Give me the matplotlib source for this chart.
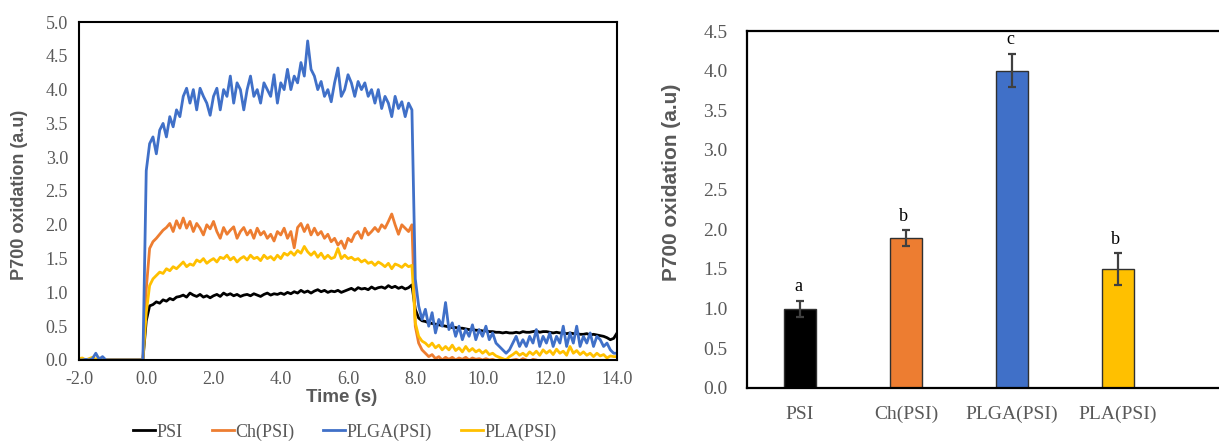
import numpy as np
import matplotlib
matplotlib.use("Agg")
import matplotlib.pyplot as plt
import matplotlib.ticker as ticker

# ---- time traces (0.1 s steps, -2.0 .. 14.0 s) ----
time = np.linspace(-2.0, 14.0, 161)

psi = [
    0, 0, 0, 0, 0, 0, 0, 0, 0, 0,                                            # -2..-1
    0, 0, 0, 0, 0, 0, 0, 0, 0, 0,                                            # -1..0
    0.58, 0.80, 0.82, 0.86, 0.84, 0.89, 0.87, 0.91, 0.89, 0.93,              # 0..1
    0.94, 0.96, 0.93, 0.99, 0.96, 0.94, 0.97, 0.93, 0.95, 0.92,              # 1..2
    0.95, 0.97, 0.94, 0.99, 0.96, 0.98, 0.95, 0.97, 0.94, 0.96,              # 2..3
    0.97, 0.95, 0.98, 0.96, 0.94, 0.97, 0.99, 0.96, 0.98, 0.97,              # 3..4
    0.99, 0.97, 1.00, 0.98, 1.01, 0.99, 1.03, 1.00, 1.02, 0.99,              # 4..5
    1.02, 1.04, 1.01, 1.03, 1.00, 1.02, 1.01, 1.03, 1.00, 1.02,              # 5..6
    1.04, 1.06, 1.03, 1.07, 1.05, 1.06, 1.04, 1.08, 1.05, 1.07,              # 6..7
    1.08, 1.06, 1.10, 1.07, 1.09, 1.06, 1.08, 1.05, 1.07, 1.11,              # 7..8
    0.75, 0.62, 0.58, 0.57, 0.55, 0.54, 0.53, 0.52, 0.51, 0.50,              # 8..9
    0.49, 0.48, 0.48, 0.47, 0.47, 0.46, 0.45, 0.45, 0.44, 0.44,              # 9..10
    0.43, 0.43, 0.42, 0.42, 0.41, 0.41, 0.40, 0.41, 0.40, 0.40,              # 10..11
    0.41, 0.40, 0.42, 0.41, 0.41, 0.42, 0.43, 0.41, 0.42, 0.42,              # 11..12
    0.41, 0.40, 0.41, 0.40, 0.40, 0.39, 0.40, 0.39, 0.39, 0.38,              # 12..13
    0.38, 0.39, 0.37, 0.38, 0.37, 0.36, 0.35, 0.33, 0.30, 0.32,              # 13..14
    0.40,
]

ch_psi = [
    0, 0, 0, 0, 0, 0, 0, 0, 0, 0,
    0, 0, 0, 0, 0, 0, 0, 0, 0, 0,
    1.05, 1.65, 1.75, 1.80, 1.86, 1.92, 1.96, 2.02, 1.90, 2.06,
    1.95, 2.10, 1.95, 2.05, 1.90, 2.02, 1.95, 1.85, 2.00, 1.94,
    2.05, 1.90, 1.80, 1.96, 1.86, 1.92, 1.97, 1.80, 1.90, 1.96,
    1.85, 1.92, 1.80, 1.95, 1.85, 1.90, 1.80, 1.86, 1.76, 1.90,
    1.85, 1.95, 1.80, 1.90, 1.66, 1.96, 2.02, 1.90, 2.00, 1.85,
    1.95, 1.85, 1.90, 1.80, 1.86, 1.75, 1.80, 1.70, 1.76, 1.65,
    1.80, 1.75, 1.86, 1.90, 1.80, 1.95, 1.85, 1.90, 1.96, 1.90,
    2.00, 1.95, 2.05, 2.16, 2.00, 1.86, 2.00, 1.95, 1.90, 2.00,
    0.50, 0.25, 0.15, 0.10, 0.05, 0.08, 0.02, 0.05, 0.00, 0.04,
    0.01, 0.04, 0.00, 0.03, 0.01, 0.04, 0.00, 0.03, 0.01, 0.02,
    0.00, 0.02, 0.00, 0.01, -0.01, 0.00, -0.02, 0.01, -0.01, 0.00,
    0.01, -0.01, 0.02, 0.00, -0.02, 0.01, 0.00, -0.02, -0.02, -0.03,
    -0.03, -0.02, -0.04, -0.03, -0.03, -0.04, -0.03, -0.04, -0.03, -0.04,
    -0.04, -0.03, -0.04, -0.04, -0.03, -0.04, -0.04, -0.03, -0.04, -0.04,
    -0.04,
]

plga_psi = [
    0, 0, 0.01, 0, 0.02, 0.10, 0.01, 0.05, 0, 0,
    0, 0, 0, 0, 0, 0, 0, 0, 0, 0,
    2.80, 3.20, 3.30, 3.05, 3.40, 3.50, 3.30, 3.60, 3.45, 3.70,
    3.60, 3.90, 4.02, 3.80, 4.00, 3.70, 4.02, 3.90, 3.80, 3.62,
    3.90, 4.02, 3.70, 4.00, 3.90, 4.20, 3.80, 4.10, 4.00, 3.70,
    4.00, 4.20, 3.90, 4.00, 3.80, 4.10, 4.00, 3.90, 4.22, 3.80,
    4.10, 4.00, 4.30, 4.00, 4.20, 4.10, 4.40, 4.20, 4.72, 4.30,
    4.20, 4.00, 4.12, 3.90, 4.00, 3.82, 4.10, 4.32, 3.90, 4.00,
    4.22, 4.10, 3.90, 4.12, 4.00, 4.10, 3.90, 4.00, 3.80, 4.00,
    3.72, 3.90, 3.80, 3.60, 3.90, 3.72, 3.82, 3.60, 3.80, 3.70,
    1.20, 0.80, 0.60, 0.75, 0.50, 0.70, 0.40, 0.60, 0.50, 0.85,
    0.45, 0.55, 0.35, 0.50, 0.30, 0.45, 0.35, 0.52, 0.30, 0.45,
    0.35, 0.50, 0.30, 0.40, 0.25, 0.20, 0.15, 0.10, 0.15, 0.25,
    0.35, 0.20, 0.30, 0.20, 0.35, 0.25, 0.45, 0.20, 0.35, 0.25,
    0.40, 0.20, 0.35, 0.25, 0.50, 0.20, 0.40, 0.25, 0.50, 0.20,
    0.35, 0.25, 0.40, 0.20, 0.35, 0.30, 0.20, 0.25, 0.15, 0.10,
    0.10,
]

pla_psi = [
    0.02, 0.03, 0, 0.02, 0.04, 0.01, 0.03, 0.02, 0, 0,
    0, 0, 0, 0, 0, 0, 0, 0, 0, 0,
    0.70, 1.10, 1.20, 1.25, 1.30, 1.28, 1.35, 1.32, 1.38, 1.35,
    1.40, 1.45, 1.38, 1.42, 1.40, 1.48, 1.45, 1.50, 1.43, 1.47,
    1.50, 1.45, 1.52, 1.50, 1.55, 1.48, 1.52, 1.45, 1.50, 1.53,
    1.48, 1.55, 1.50, 1.52, 1.47, 1.55, 1.50, 1.53, 1.48, 1.55,
    1.50, 1.58, 1.55, 1.60, 1.55, 1.62, 1.58, 1.68, 1.60, 1.55,
    1.60, 1.52, 1.58, 1.50, 1.55, 1.50, 1.52, 1.65, 1.50, 1.55,
    1.50, 1.52, 1.48, 1.50, 1.45, 1.48, 1.43, 1.45, 1.40, 1.45,
    1.42, 1.38, 1.43, 1.35, 1.42, 1.40, 1.37, 1.42, 1.38, 1.40,
    0.55, 0.35, 0.28, 0.25, 0.20, 0.25, 0.18, 0.22, 0.15, 0.20,
    0.15, 0.22, 0.14, 0.18, 0.12, 0.20, 0.13, 0.17, 0.12, 0.15,
    0.10, 0.14, 0.08, 0.10, 0.06, 0.04, 0.02, 0.00, 0.05, 0.08,
    0.12, 0.07, 0.10, 0.06, 0.12, 0.08, 0.13, 0.07, 0.15, 0.10,
    0.14, 0.08, 0.16, 0.10, 0.13, 0.07, 0.20, 0.10, 0.14, 0.08,
    0.12, 0.07, 0.10, 0.05, 0.10, 0.06, 0.08, 0.03, 0.06, 0.05,
    0.05,
]

# ---- bar summary ----
samples = ['PSI', 'Ch(PSI)', 'PLGA(PSI)', 'PLA(PSI)']
means = [1.0, 1.89, 4.0, 1.5]
errors = [0.1, 0.1, 0.21, 0.2]
letters = ['a', 'b', 'c', 'b']

colors = ['black', '#ED7D31', '#4070C8', '#FFC000']
grey = '#595959'
serif = 'Liberation Serif'
sans = 'Liberation Sans'

fig = plt.figure(figsize=(12.19, 4.41), dpi=100)

# left: kinetics
ax1 = fig.add_axes([0.0648, 0.1837, 0.4414, 0.7664])
series = [psi, ch_psi, plga_psi, pla_psi]
for k in [0, 1, 3, 2]:
    ax1.plot(time, series[k], color=colors[k], lw=2.0, label=samples[k])

ax1.set_xlim(-2, 14)
ax1.set_ylim(0, 5)
ax1.xaxis.set_major_locator(ticker.MultipleLocator(2))
ax1.yaxis.set_major_locator(ticker.MultipleLocator(0.5))
ax1.xaxis.set_major_formatter(ticker.FormatStrFormatter('%.1f'))
ax1.yaxis.set_major_formatter(ticker.FormatStrFormatter('%.1f'))
ax1.tick_params(length=0, labelsize=13, labelcolor=grey, pad=8)
for lab in ax1.get_xticklabels() + ax1.get_yticklabels():
    lab.set_family(serif)
ax1.set_xlabel('Time (s)', fontsize=13.5, fontweight='bold', family=sans, color=grey)
ax1.xaxis.set_label_coords(0.489, -0.085)
ax1.set_ylabel('P700 oxidation (a.u)', fontsize=13, fontweight='bold', family=sans, color=grey)
ax1.yaxis.set_label_coords(-0.095, 0.49)
for sp in ax1.spines.values():
    sp.set_linewidth(1.5)
    sp.set_color('black')

handles, labs = ax1.get_legend_handles_labels()
order = [labs.index(s) for s in samples]
leg = fig.legend([handles[i] for i in order], [labs[i] for i in order],
                 loc='center', bbox_to_anchor=(0.283, 0.02), ncol=4, frameon=False,
                 handlelength=1.2, handletextpad=0.1, columnspacing=1.6,
                 prop={'family': serif, 'size': 13})
for t in leg.get_texts():
    t.set_color(grey)

# right: bars
ax2 = fig.add_axes([0.6128, 0.1202, 0.4348, 0.8095])
x = np.arange(len(samples))
ax2.bar(x, means, width=0.31, color=colors, edgecolor='#303030', linewidth=1.0, zorder=2)
ax2.errorbar(x, means, yerr=errors, fmt='none', ecolor='#404040', elinewidth=1.6,
             capsize=3, capthick=1.6, zorder=3)
for xi, m, e, l in zip(x, means, errors, letters):
    ax2.text(xi - 0.02, m + e + 0.07, l, ha='center', va='bottom',
             family=serif, fontsize=13, color='black')
ax2.set_xlim(-0.5, 4.5)
ax2.set_ylim(0, 4.5)
ax2.set_xticks(x)
ax2.set_xticklabels(samples)
ax2.yaxis.set_major_locator(ticker.MultipleLocator(0.5))
ax2.yaxis.set_major_formatter(ticker.FormatStrFormatter('%.1f'))
ax2.tick_params(length=0, labelsize=14, labelcolor=grey)
ax2.tick_params(axis='x', pad=13)
ax2.tick_params(axis='y', pad=14)
for lab in ax2.get_xticklabels() + ax2.get_yticklabels():
    lab.set_family(serif)
ax2.set_ylabel('P700 oxidation (a.u)', fontsize=15, fontweight='bold', family=sans, color=grey)
ax2.yaxis.set_label_coords(-0.125, 0.577)
for sp in ax2.spines.values():
    sp.set_linewidth(1.6)
    sp.set_color('black')
ax2.spines['right'].set_visible(False)

fig.savefig('out.png', dpi=100)
